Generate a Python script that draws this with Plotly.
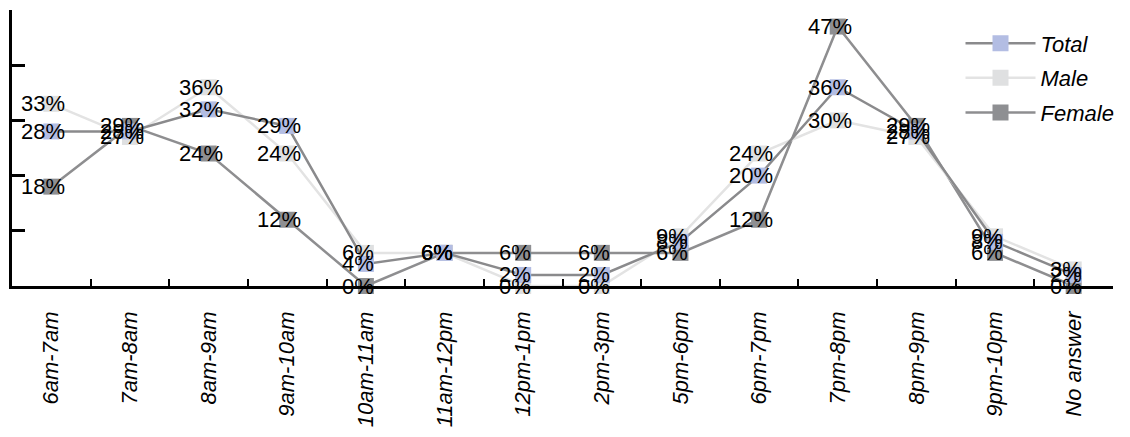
import plotly.graph_objects as go

categories = ["6am-7am", "7am-8am", "8am-9am", "9am-10am", "10am-11am", "11am-12pm",
              "12pm-1pm", "2pm-3pm", "5pm-6pm", "6pm-7pm", "7pm-8pm", "8pm-9pm",
              "9pm-10pm", "No answer"]
series_names = ["Female", "Male", "Total"]
total = [28, 28, 32, 29, 4, 6, 2, 2, 8, 20, 36, 28, 8, 2]
male = [33, 27, 36, 24, 6, 6, 0, 0, 9, 24, 30, 27, 9, 3]
female = [18, 29, 24, 12, 0, 6, 6, 6, 6, 12, 47, 29, 6, 0]

series = [
    (series_names[0], female, "#8e8e90", "#8e8f92", 3),
    (series_names[1], male, "#e3e3e3", "#dfe0e1", 2),
    (series_names[2], total, "#8a8a8c", "#b3bde3", 1),
]

FONT = "Liberation Sans, Arial, Helvetica, sans-serif"

fig = go.Figure()
for name, vals, lc, mc, rank in series:
    fig.add_trace(go.Scatter(
        x=categories, y=vals, name=name, mode="lines+markers",
        line=dict(color=lc, width=2.5),
        marker=dict(symbol="square", size=16, color=mc, line=dict(width=0)),
        cliponaxis=False, legendrank=rank, legendgroup=name,
    ))

annotations = []
for name, vals, lc, mc, rank in series:
    for c, v in zip(categories, vals):
        annotations.append(dict(
            x=c, y=v, text=f"{v}%", showarrow=False, xanchor="center", yanchor="middle",
            xshift=-8, font=dict(family=FONT, size=22, color="black"),
        ))

fig.update_layout(
    width=1122, height=429,
    margin=dict(l=4, r=17, t=2, b=151, autoexpand=False),
    plot_bgcolor="white", paper_bgcolor="white",
    annotations=annotations,
    showlegend=True,
    legend=dict(
        x=0.8615, y=0.955, xanchor="left", yanchor="top",
        bgcolor="rgba(0,0,0,0)", itemwidth=70, tracegroupgap=3,
        font=dict(family=FONT, size=22, color="black", style="italic"),
    ),
    xaxis=dict(
        type="category", range=[-0.5, 13.5], showgrid=False, zeroline=False,
        showline=True, linecolor="black", linewidth=2.5,
        ticks="inside", ticklen=7, tickwidth=2, tickcolor="black",
        tickson="boundaries", tickangle=-90, ticklabelstandoff=14,
        tickfont=dict(family=FONT, size=22, color="black", style="italic"),
    ),
    yaxis=dict(
        range=[0, 50], tick0=0, dtick=10, showgrid=False, zeroline=False,
        showline=True, linecolor="black", linewidth=2.5,
        ticks="inside", ticklen=13, tickwidth=2.5, tickcolor="black",
        showticklabels=False,
    ),
)

fig.write_html("out.html")
